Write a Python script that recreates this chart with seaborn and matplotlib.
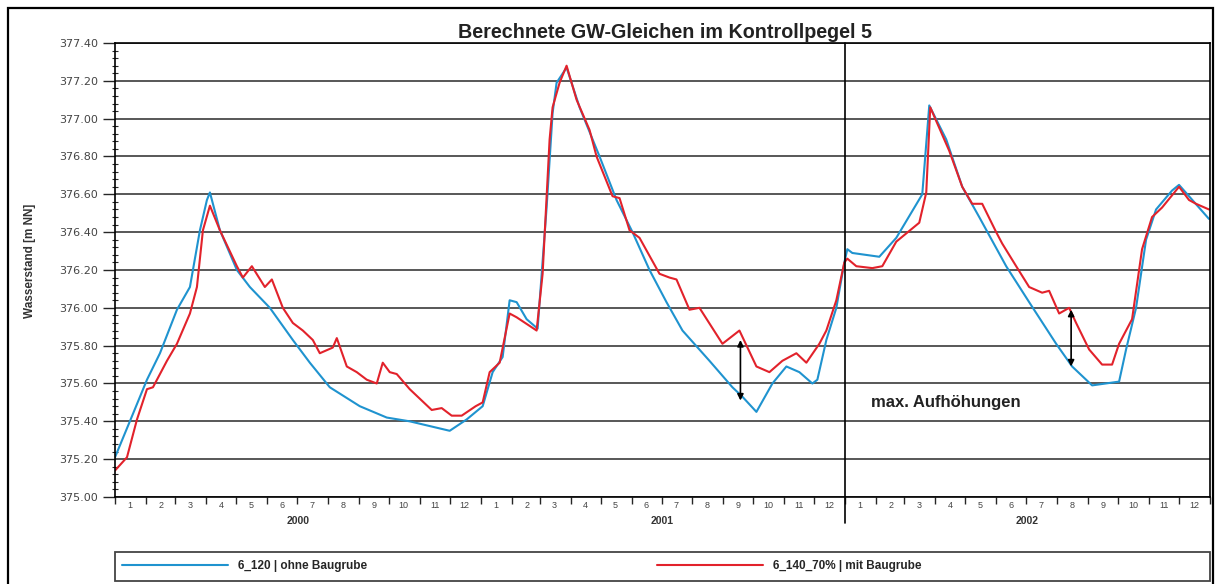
import pandas as pd
import matplotlib
matplotlib.use("Agg")
import matplotlib.pyplot as plt
import matplotlib.dates as mdates
import matplotlib.patches as mpatches
from matplotlib.ticker import MultipleLocator, FormatStrFormatter, FuncFormatter, NullFormatter
import seaborn as sns

# Berechnete GW-Gleichen im Kontrollpegel 5

title = "Berechnete GW-Gleichen im Kontrollpegel 5"
label_ohne = "6_120 | ohne Baugrube"
label_mit = "6_140_70% | mit Baugrube"

# Variante ohne Baugrube (blau)
dates_ohne = ["2000-01-01", "2000-01-19", "2000-02-02", "2000-02-15", "2000-03-03", "2000-03-16",
              "2000-03-26", "2000-04-02", "2000-04-05", "2000-04-15", "2000-05-02", "2000-05-15",
              "2000-06-04", "2000-06-27", "2000-07-14", "2000-08-03", "2000-09-02", "2000-09-29",
              "2000-10-22", "2000-12-01", "2000-12-18", "2001-01-03", "2001-01-13", "2001-01-23",
              "2001-01-30", "2001-02-06", "2001-02-16", "2001-02-27", "2001-03-08", "2001-03-14",
              "2001-03-18", "2001-03-28", "2001-04-10", "2001-04-30", "2001-05-17", "2001-06-02",
              "2001-06-19", "2001-07-06", "2001-07-22", "2001-08-18", "2001-09-10", "2001-09-20",
              "2001-10-04", "2001-10-20", "2001-11-03", "2001-11-16", "2001-11-29", "2001-12-04",
              "2001-12-13", "2001-12-23", "2001-12-31", "2002-01-03", "2002-01-08", "2002-02-04",
              "2002-02-21", "2002-03-19", "2002-03-26", "2002-04-12", "2002-04-28", "2002-05-15",
              "2002-06-11", "2002-07-04", "2002-07-31", "2002-08-16", "2002-09-05", "2002-10-02",
              "2002-10-09", "2002-10-19", "2002-10-29", "2002-11-08", "2002-11-24", "2002-12-01",
              "2002-12-11", "2002-12-31"]
gw_ohne = [375.21, 375.44, 375.62, 375.76, 375.99, 376.11,
           376.41, 376.57, 376.61, 376.41, 376.20, 376.11,
           376.00, 375.83, 375.71, 375.58, 375.48, 375.42,
           375.40, 375.35, 375.41, 375.48, 375.66, 375.74,
           376.04, 376.03, 375.94, 375.89, 376.53, 377.03,
           377.19, 377.27, 377.06, 376.80, 376.57, 376.40,
           376.20, 376.03, 375.88, 375.72, 375.58, 375.53,
           375.45, 375.60, 375.69, 375.66, 375.60, 375.62,
           375.83, 376.00, 376.24, 376.31, 376.29, 376.27,
           376.37, 376.60, 377.07, 376.89, 376.64, 376.48,
           376.22, 376.03, 375.81, 375.69, 375.59, 375.61,
           375.78, 376.00, 376.36, 376.52, 376.62, 376.65,
           376.59, 376.47]

# Variante mit Baugrube (rot)
dates_mit = ["2000-01-01", "2000-01-13", "2000-01-23", "2000-02-02", "2000-02-08", "2000-02-22",
             "2000-03-03", "2000-03-16", "2000-03-23", "2000-03-29", "2000-04-05", "2000-04-15",
             "2000-05-02", "2000-05-08", "2000-05-17", "2000-05-30", "2000-06-06", "2000-06-17",
             "2000-06-27", "2000-07-07", "2000-07-17", "2000-07-24", "2000-08-06", "2000-08-10",
             "2000-08-20", "2000-08-30", "2000-09-09", "2000-09-19", "2000-09-25", "2000-10-02",
             "2000-10-09", "2000-10-22", "2000-11-13", "2000-11-23", "2000-12-03", "2000-12-13",
             "2000-12-27", "2001-01-03", "2001-01-10", "2001-01-20", "2001-01-30", "2001-02-06",
             "2001-02-26", "2001-03-04", "2001-03-11", "2001-03-14", "2001-03-21", "2001-03-28",
             "2001-04-07", "2001-04-20", "2001-04-27", "2001-05-13", "2001-05-20", "2001-05-30",
             "2001-06-09", "2001-06-29", "2001-07-09", "2001-07-16", "2001-07-29", "2001-08-08",
             "2001-08-31", "2001-09-17", "2001-10-04", "2001-10-17", "2001-10-30", "2001-11-13",
             "2001-11-23", "2001-12-06", "2001-12-13", "2001-12-23", "2001-12-31", "2002-01-03",
             "2002-01-12", "2002-01-28", "2002-02-07", "2002-02-21", "2002-03-16", "2002-03-23",
             "2002-03-27", "2002-04-15", "2002-04-28", "2002-05-08", "2002-05-18", "2002-06-01",
             "2002-06-07", "2002-06-21", "2002-07-04", "2002-07-17", "2002-07-24", "2002-08-03",
             "2002-08-13", "2002-08-20", "2002-09-02", "2002-09-15", "2002-09-25", "2002-10-02",
             "2002-10-15", "2002-10-25", "2002-11-04", "2002-11-14", "2002-12-01", "2002-12-11",
             "2002-12-18", "2002-12-31"]
gw_mit = [375.14, 375.21, 375.41, 375.57, 375.58, 375.72,
          375.81, 375.97, 376.11, 376.41, 376.54, 376.41,
          376.22, 376.16, 376.22, 376.11, 376.15, 376.00,
          375.92, 375.88, 375.83, 375.76, 375.79, 375.84,
          375.69, 375.66, 375.62, 375.60, 375.71, 375.66,
          375.65, 375.57, 375.46, 375.47, 375.43, 375.43,
          375.48, 375.50, 375.66, 375.71, 375.97, 375.95,
          375.88, 376.18, 376.89, 377.06, 377.19, 377.28,
          377.10, 376.94, 376.80, 376.59, 376.58, 376.41,
          376.37, 376.18, 376.16, 376.15, 375.99, 376.00,
          375.81, 375.88, 375.69, 375.66, 375.72, 375.76,
          375.71, 375.81, 375.88, 376.04, 376.24, 376.26,
          376.22, 376.21, 376.22, 376.35, 376.45, 376.61,
          377.06, 376.83, 376.64, 376.55, 376.55, 376.40,
          376.34, 376.22, 376.11, 376.08, 376.09, 375.97,
          376.00, 375.92, 375.78, 375.70, 375.70, 375.81,
          375.94, 376.31, 376.48, 376.53, 376.64, 376.57,
          376.55, 376.52]

years = [2000, 2001, 2002]

# max. Aufhoehungen (Pfeile)
arrow_dates = ["2001-09-18", "2002-08-15"]
arrow_top = [375.83, 375.99]
arrow_bottom = [375.51, 375.69]

assert len(dates_ohne) == len(gw_ohne)
assert len(dates_mit) == len(gw_mit)

df = pd.concat([
    pd.DataFrame({"Datum": pd.to_datetime(dates_ohne), "Wasserstand": gw_ohne, "Variante": label_ohne}),
    pd.DataFrame({"Datum": pd.to_datetime(dates_mit), "Wasserstand": gw_mit, "Variante": label_mit}),
])

sns.set_style("white")
plt.rcParams["font.family"] = ["Liberation Sans", "DejaVu Sans"]

W, H = 1215, 584
fig = plt.figure(figsize=(W / 100, H / 100), dpi=100)
ax = fig.add_axes([115 / W, 1 - 497 / H, 1095 / W, 454 / H])

sns.lineplot(data=df, x="Datum", y="Wasserstand", hue="Variante",
             palette={label_ohne: "#1f93cf", label_mit: "#e2222b"},
             estimator=None, sort=False, lw=1.5, ax=ax)

# y axis
ax.set_ylim(375.0, 377.4)
ax.yaxis.set_major_locator(MultipleLocator(0.2))
ax.yaxis.set_minor_locator(MultipleLocator(0.04))
ax.yaxis.set_major_formatter(FormatStrFormatter("%.2f"))
ax.tick_params(axis="y", which="major", direction="out", length=9, width=1, labelsize=8,
               labelcolor="#444444", left=True, pad=3)
ax.tick_params(axis="y", which="minor", direction="inout", length=5, width=0.8, left=True)
for lab in ax.get_yticklabels():
    lab.set_family("DejaVu Sans")
ax.grid(axis="y", which="major", color="#2a2a2a", lw=1.1)
ax.set_axisbelow(True)
ax.set_ylabel("Wasserstand [m NN]", fontsize=8.5, fontweight="bold", color="#333333")
ax.yaxis.set_label_coords(-0.072, 0.52)

# x axis: months
ax.set_xlim(pd.Timestamp("2000-01-01"), pd.Timestamp("2003-01-01"))
ax.xaxis.set_major_locator(mdates.MonthLocator())
ax.xaxis.set_major_formatter(NullFormatter())
ax.xaxis.set_minor_locator(mdates.MonthLocator(bymonthday=16))
ax.xaxis.set_minor_formatter(FuncFormatter(lambda v, p: str(mdates.num2date(v).month)))
ax.tick_params(axis="x", which="major", direction="out", length=5, width=1, bottom=True)
ax.tick_params(axis="x", which="minor", length=0, labelsize=6.5, labelcolor="#444444", pad=3)
ax.set_xlabel("")
for y in years:
    ax.text(pd.Timestamp(f"{y}-07-02"), -0.052, str(y), transform=ax.get_xaxis_transform(),
            ha="center", va="center", fontsize=7.5, fontweight="bold", color="#333333")

ax.axvline(pd.Timestamp("2002-01-01"), ymin=-0.058, ymax=1, color="black", lw=1.2, clip_on=False)

for s in ax.spines.values():
    s.set_color("black")
    s.set_linewidth(1.2)

# Pfeile + Text
for d, top, bot in zip(arrow_dates, arrow_top, arrow_bottom):
    ax.annotate("", xy=(pd.Timestamp(d), bot), xytext=(pd.Timestamp(d), top),
                arrowprops=dict(arrowstyle="<|-|>", color="black", lw=1.2, mutation_scale=9,
                                shrinkA=0, shrinkB=0))
ax.text(pd.Timestamp("2002-01-27"), 375.50, "max. Aufhöhungen", fontsize=12,
        fontweight="bold", color="#222222", va="center", ha="left")

fig.text(665 / W, 1 - 32 / H, title, ha="center", va="center", fontsize=14.2, fontweight="bold",
         color="#222222")

# legend
handles, labels = ax.get_legend_handles_labels()
ax.get_legend().remove()
fig.legend(handles, labels, ncol=2, loc="center left", bbox_to_anchor=(122 / W, 1 - 566 / H),
           frameon=False, borderpad=0, borderaxespad=0, handlelength=9.0, handletextpad=0.8,
           columnspacing=24.6, prop={"size": 8.5, "weight": "bold"})
fig.patches.append(mpatches.Rectangle((115 / W, 1 - 581 / H), 1095 / W, 29 / H,
                                      transform=fig.transFigure, fill=False,
                                      edgecolor="#444444", lw=1.3))
# outer frame
fig.patches.append(mpatches.Rectangle((8 / W, -0.01), 1205 / W, 1 - 8 / H + 0.01,
                                      transform=fig.transFigure, fill=False,
                                      edgecolor="black", lw=1.6))

fig.savefig("out.png", dpi=100)
